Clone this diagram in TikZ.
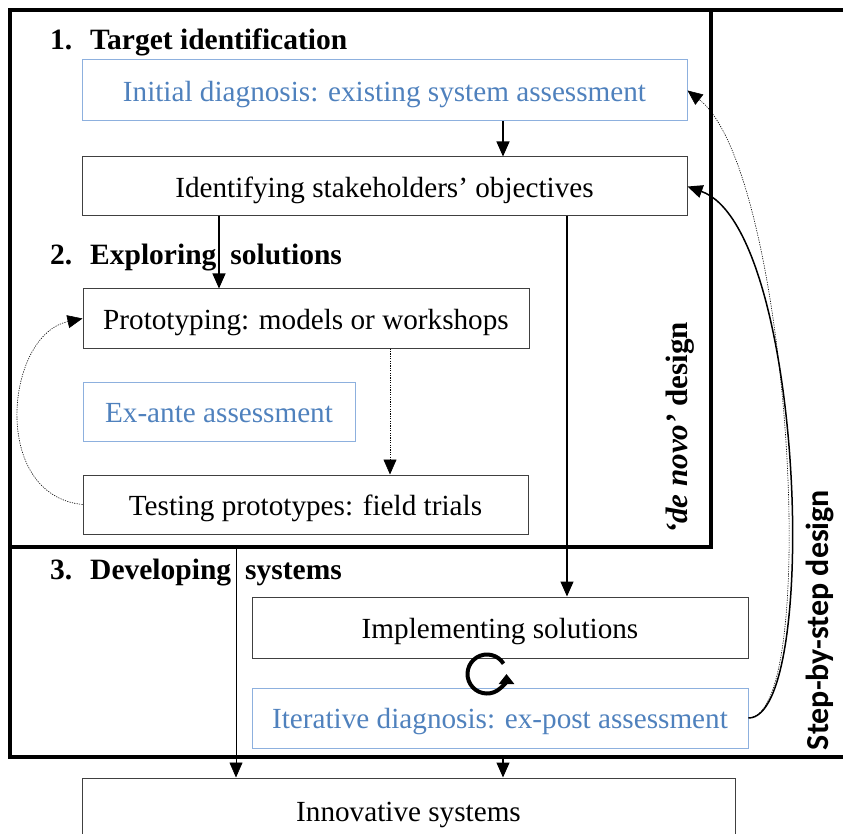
\documentclass[tikz,border=0pt]{standalone}
\usepackage{fontspec}
\setmainfont{Liberation Serif}
\newfontfamily\stepfont{Carlito}
\usetikzlibrary{arrows.meta}
\definecolor{txtblue}{RGB}{79,129,189}
\definecolor{lineblue}{RGB}{141,176,222}
\tikzset{
  box/.style={draw=black!75, line width=1pt, inner sep=0pt, text height=28pt, text depth=6.4pt, font=\fontsize{29.2}{32}\selectfont},
  bluebox/.style={box, draw=lineblue, text=txtblue},
  sectitle/.style={font=\fontsize{29.5}{32}\selectfont\bfseries, inner sep=0pt, anchor=base west},
  frame/.style={line width=3.5pt},
  arr/.style={line width=1.2pt, -{Triangle[length=15pt,width=13pt]}},
  thinarr/.style={line width=0.6pt, -{Triangle[length=15pt,width=13pt]}},
  dotarr/.style={line width=0.6pt, dash pattern=on 1.2pt off 1.2pt, -{Triangle[length=15pt,width=13pt]}},
}
\begin{document}
\begin{tikzpicture}[x=1pt, y=-1pt]
\useasboundingbox (0,0) rectangle (843,834);
\clip (0,0) rectangle (843,834);
% frames
\draw[frame] (850,10) -- (10,10) -- (10,757) -- (850,757);
\draw[frame] (10,10) rectangle (711,547);
% section titles
\node[sectitle] (t1n) at (50,50) {1.};
\node[sectitle] (t1) at (90,50) {Target identification};
\node[sectitle] (t2n) at (50,265) {2.};
\node[sectitle] (t2) at (90,265) {Exploring\hspace{14pt}solutions};
\node[sectitle] (t3n) at (50,579) {3.};
\node[sectitle] (t3) at (90,579) {Developing\hspace{14pt}systems};
% boxes
\node[bluebox, minimum width=605pt, minimum height=61pt] (init) at (384.5,90.5) {Initial diagnosis: existing system assessment};
\node[box, minimum width=605pt, minimum height=59pt] (ident) at (384.5,186.5) {Identifying stakeholders’ objectives};
\node[box, minimum width=446pt, minimum height=59pt] (proto) at (306,318.5) {Prototyping: models or workshops};
\node[bluebox, minimum width=272pt, minimum height=59pt] (exante) at (219,411.5) {Ex-ante assessment};
\node[box, minimum width=445pt, minimum height=59pt] (test) at (305.5,504.5) {Testing prototypes: field trials};
\node[box, minimum width=496pt, minimum height=61pt] (impl) at (500,627.5) {Implementing solutions};
\node[bluebox, minimum width=496pt, minimum height=60pt] (iter) at (500,718) {Iterative diagnosis: ex-post assessment};
\node[box, minimum width=653pt, minimum height=66pt] (innov) at (408.5,811) {Innovative systems};
% side labels
\node[rotate=90, inner sep=0pt, font=\fontsize{31}{34}\selectfont\bfseries] (denovo) at (680,428) {\textit{‘de novo’} design};
\node[rotate=90, inner sep=0pt, font=\stepfont\fontsize{32}{34}\selectfont\bfseries] (stepby) at (820,620) {Step-by-step design};
% connectors
\coordinate (s3top) at (236,547);
\coordinate (s3bot) at (503,757);
\draw[arr] (init.south -| 503,0) -- (ident.north -| 503,0);
\draw[arr] (ident.south -| 219,0) -- (proto.north -| 219,0);
\draw[dotarr] (proto.south -| 390,0) -- (test.north -| 390,0);
\draw[arr] (ident.south -| 567,0) -- (impl.north -| 567,0);
\draw[thinarr] (s3top) -- (innov.north -| s3top);
\draw[arr] (s3bot) -- (innov.north -| s3bot);
\draw[dotarr] (test.west) .. controls (-10,495) and (5,335) .. (proto.west);
\draw[line width=1.5pt, -{Triangle[length=15pt,width=13pt]}] (iter.east) .. controls (820,718) and (805,228) .. (ident.east);
\draw[dotarr] (iter.east) .. controls (822,716) and (790,170) .. (init.east);
% cycle symbol
\coordinate (cyc) at (487,674);
\draw[line width=4pt, -{Triangle[length=10pt,width=15pt]}] (cyc) ++(-32:19.5) arc[start angle=-32, end angle=-360, radius=19.5];
\end{tikzpicture}
\end{document}
